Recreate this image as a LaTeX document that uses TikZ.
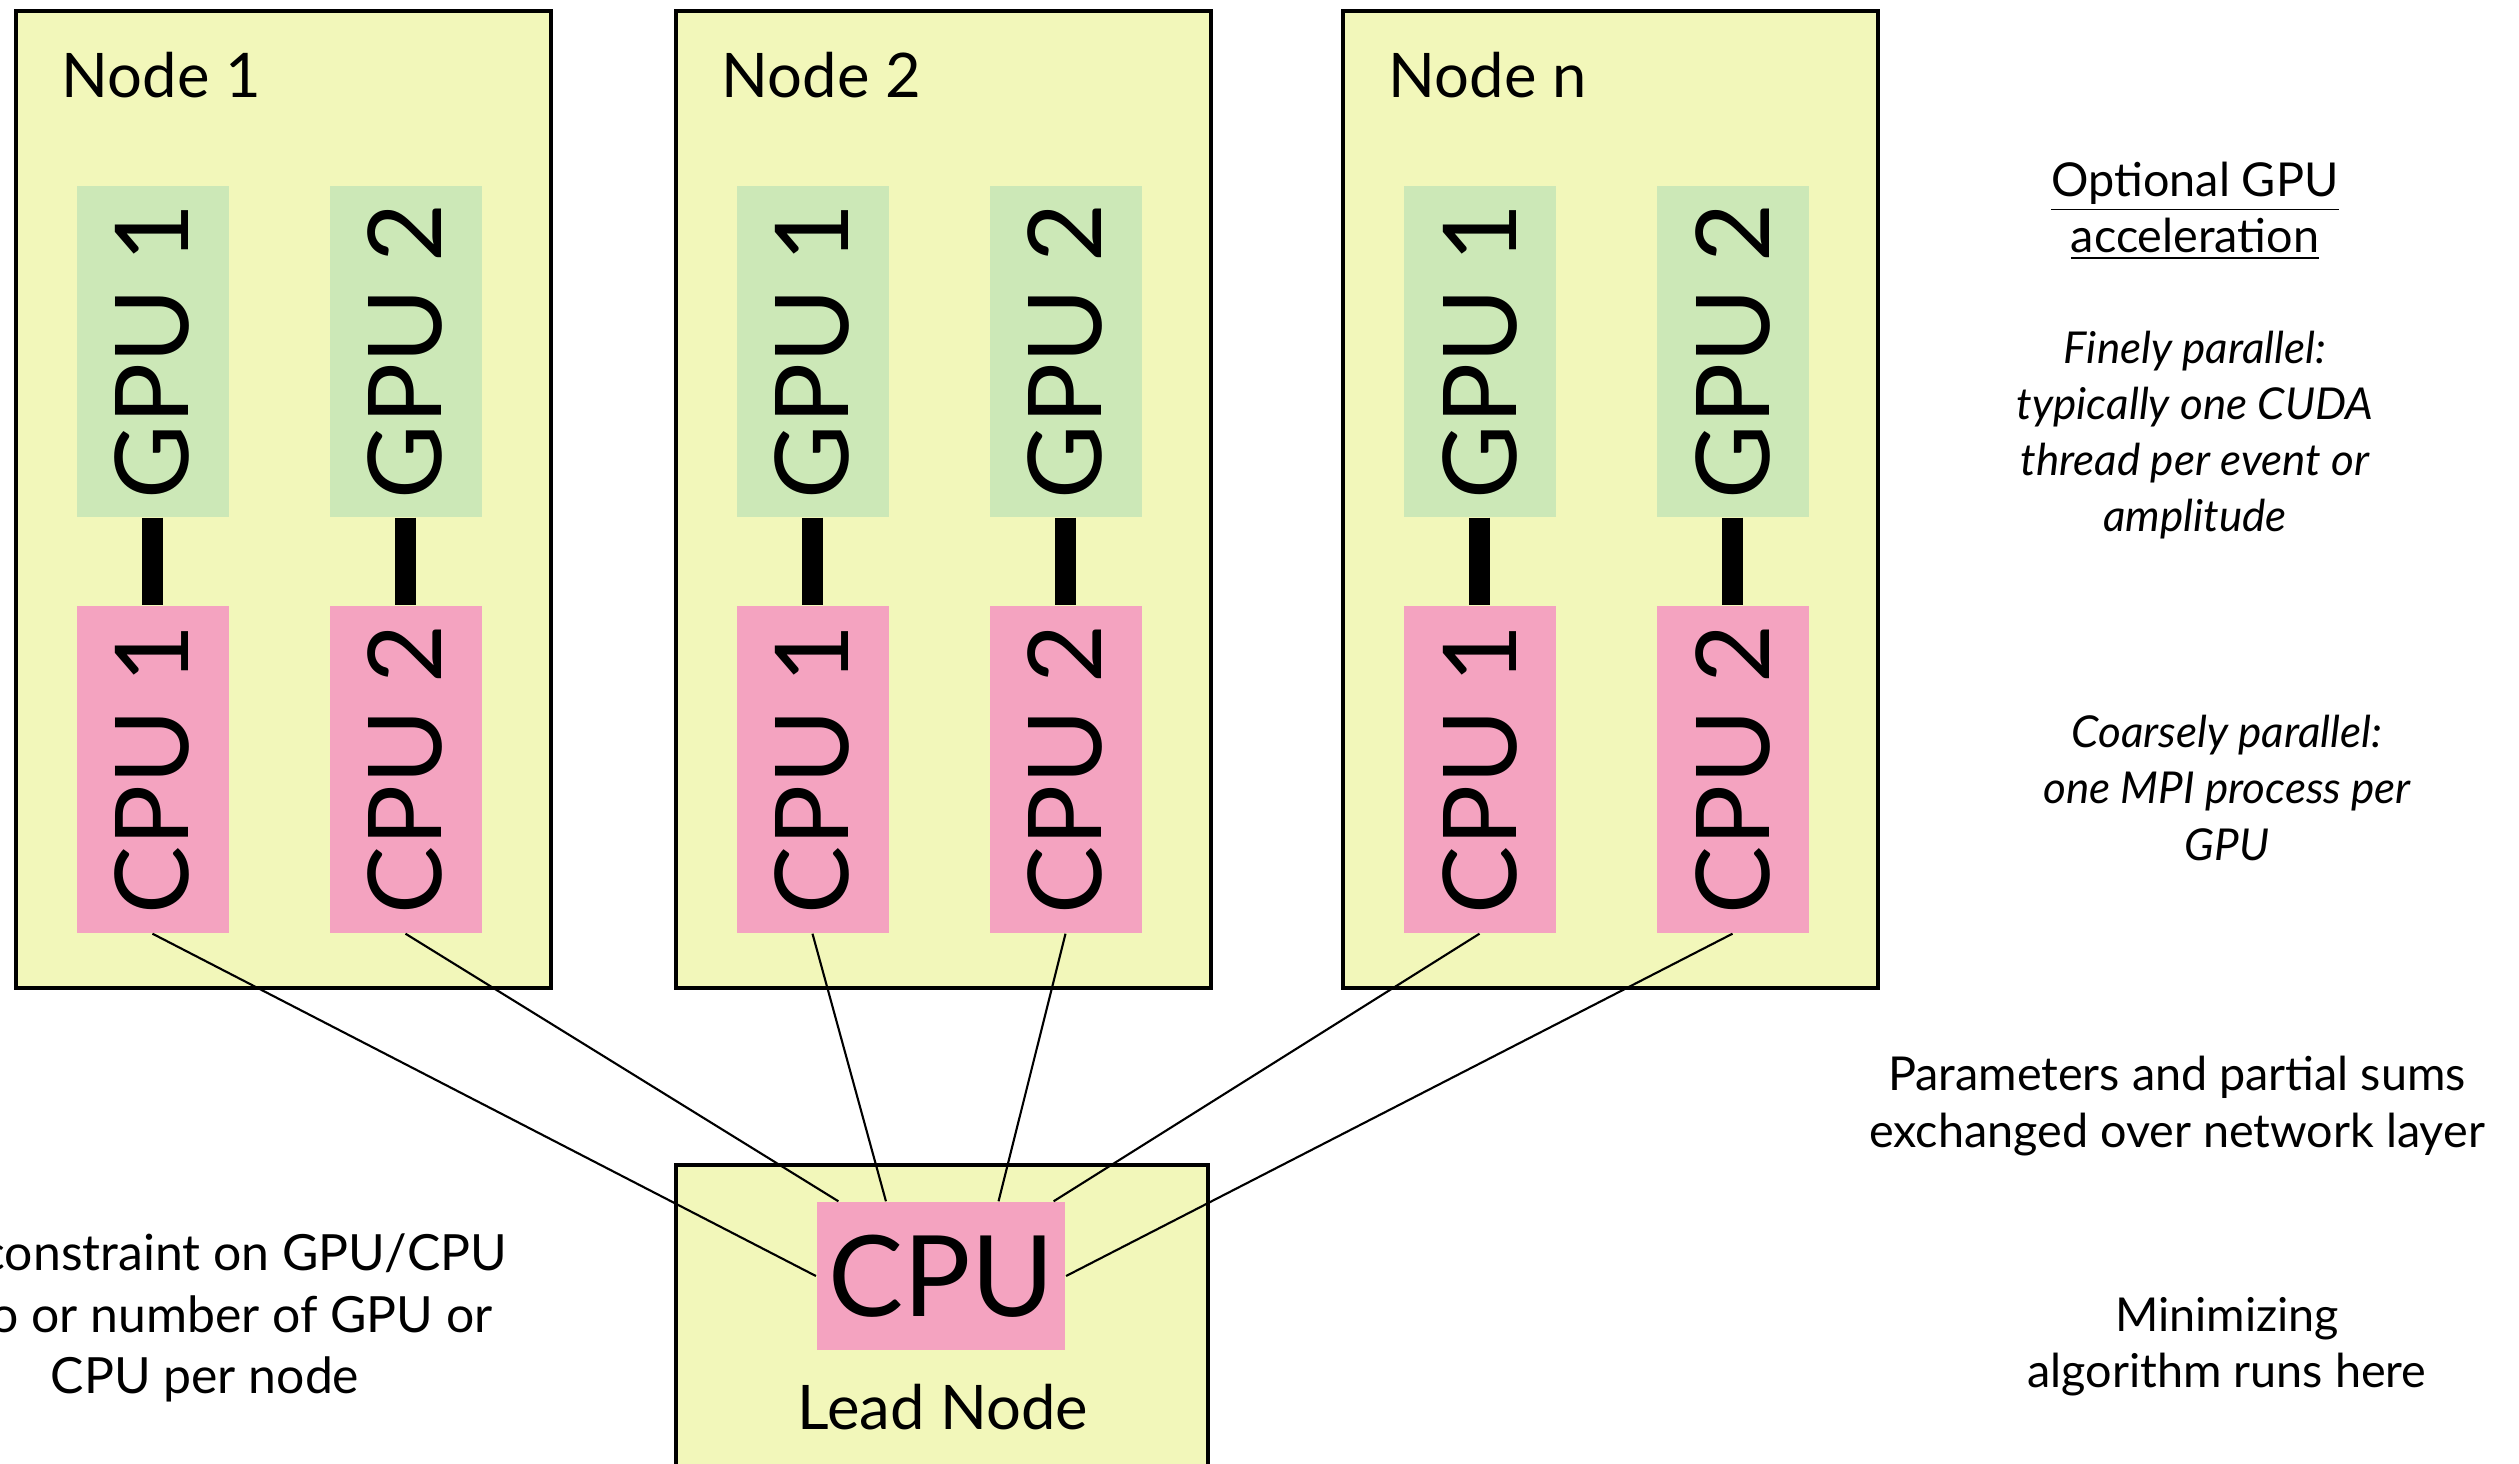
\documentclass[tikz,border=0pt]{standalone}
\usepackage{fontspec}
\setmainfont{Lato}
\usepackage{graphicx}
\usetikzlibrary{calc}
\definecolor{nodeyellow}{RGB}{242,247,186}
\definecolor{gpugreen}{RGB}{204,232,183}
\definecolor{cpupink}{RGB}{244,163,192}

\begin{document}
\begin{tikzpicture}[
  nodebox/.style={draw, line width=1.4pt, fill=nodeyellow},
  nodelabel/.style={font=\fontsize{17.5}{21}\selectfont},
  unit/.style={minimum width=1.52cm, inner sep=0pt, font=\fontsize{29}{34}\selectfont},
  gpubox/.style={unit, fill=gpugreen, minimum height=3.31cm},
  cpubox/.style={unit, fill=cpupink, minimum height=3.27cm},
  bus/.style={line width=6pt},
  wire/.style={line width=0.6pt},
  note/.style={align=center, font=\fontsize{13.3}{16}\selectfont},
  inote/.style={align=center, font=\fontsize{12.5}{16}\selectfont\itshape}
]
  \useasboundingbox (0,0) rectangle (25.19,-14.64);
  % compute nodes
  \foreach \k/\lbl/\x in {1/1/0.16, 2/2/6.76, 3/n/13.43} {
    \draw[nodebox] (\x,-0.11) rectangle ++(5.35,-9.77);
    \node[nodelabel, inner sep=0pt, anchor=base west] (name\k) at (\x+0.45,-0.98) {Node \lbl};
    \foreach \j/\dx in {1/1.365, 2/3.895} {
      \node[gpubox] (g\k\j) at (\x+\dx,-3.515) {\rotatebox{90}{GPU \j}};
      \node[cpubox] (c\k\j) at (\x+\dx,-7.695) {\rotatebox{90}{CPU \j}};
      \draw[bus] (g\k\j) -- (c\k\j);
    }
  }
  % lead node
  \draw[nodebox] (6.76,-11.65) rectangle (12.08,-15.2);
  \node[fill=cpupink, minimum width=2.38cm, minimum height=1.48cm,
        font=\fontsize{32}{38}\selectfont] (lead) at (9.41,-12.76) {CPU};
  \node[nodelabel] (leadname) at (9.43,-14.07) {Lead Node};
  % network
  \draw[wire] (c11.south) -- (lead.west);
  \draw[wire] (c12.south) -- ($(lead.north west)!0.09!(lead.north east)$);
  \draw[wire] (c21.south) -- ($(lead.north west)!0.28!(lead.north east)$);
  \draw[wire] (c22.south) -- ($(lead.north west)!0.73!(lead.north east)$);
  \draw[wire] (c31.south) -- ($(lead.north west)!0.95!(lead.north east)$);
  \draw[wire] (c32.south) -- (lead.east);
  % notes
  \node[note] (accel) at (21.95,-2.11) {\underline{Optional GPU}\\\underline{acceleration}};
  \node[inote] (fine) at (21.95,-4.35) {Finely parallel:\\typically one CUDA\\thread per event or\\amplitude};
  \node[inote] (coarse) at (22.27,-7.88) {Coarsely parallel:\\one MPI process per\\GPU};
  \node[note] (net) at (21.77,-11.06) {Parameters and partial sums\\exchanged over network layer};
  \node[note] (minim) at (22.27,-13.47) {Minimizing\\algorithm runs here};
  \node[align=center, font=\fontsize{14.2}{17.4}\selectfont] (free) at (2.05,-13.18)
    {No constraint on GPU/CPU\\ratio or number of GPU or\\CPU per node};
\end{tikzpicture}
\end{document}
